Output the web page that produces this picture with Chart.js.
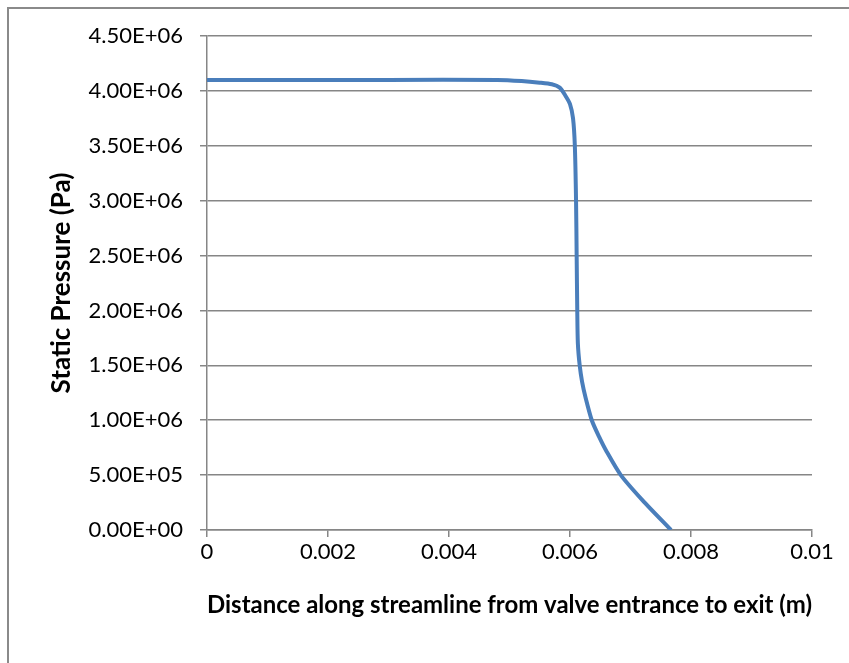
<!doctype html>
<html>
<head>
<meta charset="utf-8">
<title>Static Pressure along streamline</title>
<script src="https://cdn.jsdelivr.net/npm/chart.js"></script>
<style>
html,body{margin:0;padding:0;background:#fff;overflow:hidden}
#frame{position:absolute;left:7px;top:7px;width:900px;height:700px;border:2px solid #8a8a8a}
#wrap{position:absolute;left:0;top:0;width:849px;height:663px}
</style>
</head>
<body>
<div id="frame"></div>
<div id="wrap"><canvas id="chart" width="849" height="663"></canvas></div>
<script>
// distance along streamline (m)
const distance = [0, 0.001, 0.003, 0.0048, 0.0052, 0.0055, 0.0057, 0.00583, 0.00592, 0.0060,
  0.00605, 0.00608, 0.0061, 0.00611, 0.00612, 0.00613, 0.00616, 0.0062, 0.00626, 0.00636,
  0.00648, 0.0066, 0.00684, 0.0072, 0.00767];
// static pressure (Pa)
const pressure = [4.10e6, 4.10e6, 4.10e6, 4.10e6, 4.09e6, 4.075e6, 4.06e6, 4.03e6, 3.96e6, 3.88e6,
  3.75e6, 3.50e6, 3.00e6, 2.50e6, 2.00e6, 1.70e6, 1.50e6, 1.35e6, 1.20e6, 1.00e6,
  0.85e6, 0.72e6, 0.50e6, 0.27e6, 0];

const xTickLabels = ['0', '0.002', '0.004', '0.006', '0.008', '0.01'];
const yTickLabels = ['0.00E+00', '5.00E+05', '1.00E+06', '1.50E+06', '2.00E+06',
  '2.50E+06', '3.00E+06', '3.50E+06', '4.00E+06', '4.50E+06'];

const gridGray = '#868686';
const font = 'Lato';

const points = distance.map((d, i) => ({ x: d, y: pressure[i] }));

new Chart(document.getElementById('chart').getContext('2d'), {
  type: 'line',
  data: {
    datasets: [{
      data: points,
      borderColor: '#4A7EBB',
      borderWidth: 4,
      pointRadius: 0,
      tension: 0.25,
      fill: false
    }]
  },
  options: {
    responsive: false,
    animation: false,
    devicePixelRatio: 1,
    layout: { padding: { left: 0, top: 36, right: 37, bottom: 0 } },
    plugins: { legend: { display: false }, tooltip: { enabled: false } },
    scales: {
      x: {
        type: 'linear',
        min: 0, max: 0.01,
        afterFit: (s) => { s.height = 133; },
        ticks: {
          stepSize: 0.002,
          color: '#000',
          padding: 2,
          maxRotation: 0,
          font: { family: font, size: 22 },
          callback: (v, i) => xTickLabels[i]
        },
        grid: { drawOnChartArea: false, drawTicks: true, tickLength: 7, color: gridGray, lineWidth: 1.5 },
        border: { display: true, color: gridGray, width: 1.5 },
        title: {
          display: true,
          text: 'Distance along streamline from valve entrance to exit (m)',
          color: '#000',
          font: { family: font, size: 24.6, weight: 'bold' },
          padding: { top: 0, bottom: 43 }
        }
      },
      y: {
        min: 0, max: 4.5e6,
        afterFit: (s) => { s.width = 207; },
        ticks: {
          stepSize: 5e5,
          color: '#000',
          padding: 17,
          font: { family: font, size: 22 },
          callback: (v, i) => yTickLabels[i]
        },
        grid: { drawTicks: true, tickLength: 7, color: gridGray, lineWidth: 1.5 },
        border: { display: true, color: gridGray, width: 1.5 },
        title: {
          display: true,
          text: 'Static Pressure (Pa)',
          color: '#000',
          font: { family: font, size: 26, weight: 'bold' },
          padding: { top: 46, bottom: 0 }
        }
      }
    }
  }
});
</script>
</body>
</html>
